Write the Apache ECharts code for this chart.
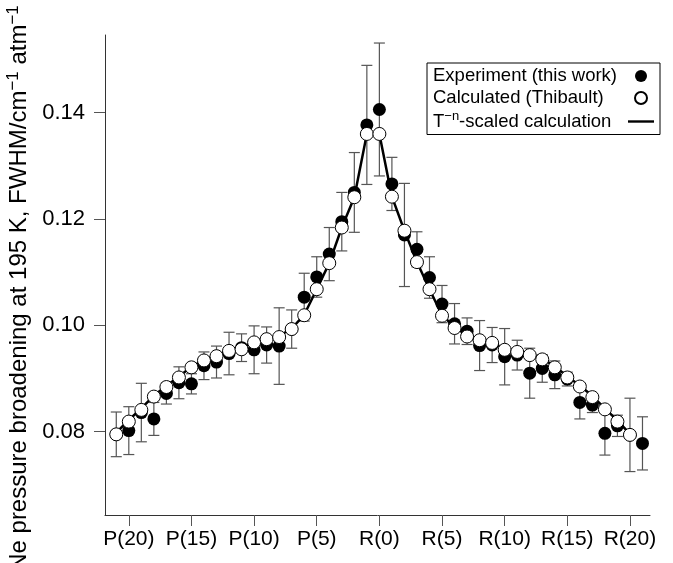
<!DOCTYPE html>
<html>
<head>
<meta charset="utf-8">
<script src="https://cdn.jsdelivr.net/npm/echarts@6/dist/echarts.min.js"></script>
<style>
html,body{margin:0;padding:0;background:#fff;}
#c{width:673px;height:563px;}
</style>
</head>
<body>
<div id="c"></div>
<script>
// Rotational lines: P(J) plotted at -J, R(J) at +J
var expX = [-21,-20,-19,-18,-17,-16,-15,-14,-13,-12,-11,-10,-9,-8,-7,-6,-5,-4,-3,-2,-1,
            0,1,2,3,4,5,6,7,8,9,10,11,12,13,14,15,16,17,18,19,20,21];
var expY = [0.0795,0.0802,0.0836,0.0824,0.0872,0.0892,0.0890,0.0924,0.0931,0.0947,0.0958,0.0954,0.0963,0.0961,0.0993,0.1053,0.1091,0.1134,0.1195,0.1250,0.1377,
            0.1406,0.1266,0.1170,0.1143,0.1090,0.1040,0.1003,0.0989,0.0962,0.0963,0.0941,0.0944,0.0910,0.0919,0.0907,0.0899,0.0855,0.0850,0.0797,0.0811,0.0794,0.0778];
var expErr = [0.0042,0.0045,0.0055,0.0031,0.0020,0.0030,0.0019,0.0026,0.0030,0.0040,0.0026,0.0045,0.0034,0.0072,0.0036,0.0045,0.0038,0.0050,0.0055,0.0075,0.0112,
              0.0125,0.0050,0.0097,0.0033,0.0039,0.0035,0.0038,0.0025,0.0047,0.0033,0.0053,0.0028,0.0047,0.0026,0.0026,0.0013,0.0031,0.0014,0.0041,0.0020,0.0069,0.0050];

var calcX = [-21,-20,-19,-18,-17,-16,-15,-14,-13,-12,-11,-10,-9,-8,-7,-6,-5,-4,-3,-2,-1,
             0,1,2,3,4,5,6,7,8,9,10,11,12,13,14,15,16,17,18,19,20];
var calcY = [0.0795,0.0819,0.0841,0.0866,0.0884,0.0902,0.0921,0.0934,0.0942,0.0952,0.0955,0.0968,0.0974,0.0978,0.0993,0.1019,0.1068,0.1117,0.1184,0.1241,0.1360,
             0.1360,0.1242,0.1178,0.1119,0.1068,0.1018,0.0995,0.0979,0.0972,0.0967,0.0954,0.0950,0.0944,0.0936,0.0921,0.0902,0.0885,0.0865,0.0842,0.0819,0.0794];

var scaledY = [0.0798,0.0822,0.0844,0.0868,0.0886,0.0904,0.0922,0.0935,0.0944,0.0953,0.0958,0.0969,0.0975,0.0980,0.0994,0.1020,0.1068,0.1117,0.1184,0.1241,0.1360,
               0.1360,0.1242,0.1178,0.1119,0.1068,0.1019,0.0997,0.0981,0.0974,0.0968,0.0956,0.0952,0.0946,0.0937,0.0923,0.0904,0.0887,0.0867,0.0844,0.0821,0.0796];

var xTickVals = [-20,-15,-10,-5,0,5,10,15,20];
var xTickLabels = ['P(20)','P(15)','P(10)','P(5)','R(0)','R(5)','R(10)','R(15)','R(20)'];
var yTickVals = [0.08,0.10,0.12,0.14];
var yTickLabels = ['0.08','0.10','0.12','0.14'];

var seriesNames = ['Experiment (this work)','Calculated (Thibault)','T-n-scaled calculation'];

var FONT = 'Liberation Sans, Arial, Helvetica, sans-serif';
var LFS = 18.5;
var LEG_TEXT_W = 190;

function zip(a,b){ return a.map(function(v,i){ return [v,b[i]]; }); }
var errData = expX.map(function(x,i){ return [x, expY[i]-expErr[i], expY[i]+expErr[i]]; });

// measure legend texts so that the icons line up in one column
var mctx = document.createElement('canvas').getContext('2d');
function tw(str, size){ mctx.font = size + 'px ' + FONT; return mctx.measureText(str).width; }
var w0 = tw(seriesNames[0], LFS), w1 = tw(seriesNames[1], LFS);
var w2 = tw('T', LFS) + tw('−n', 13) + tw('-scaled calculation', LFS);

var chart = echarts.init(document.getElementById('c'), null, {renderer:'canvas'});
chart.setOption({
  animation:false,
  backgroundColor:'#fff',
  grid:{left:105,right:23,top:35,bottom:48,containLabel:false,outerBoundsMode:'none'},
  xAxis:{
    type:'value', min:-21.9, max:21.6,
    axisLine:{show:true,onZero:false,lineStyle:{color:'#333',width:1}},
    axisTick:{show:true,customValues:xTickVals,length:11,lineStyle:{color:'#555'}},
    axisLabel:{customValues:xTickVals,margin:14,fontSize:21,color:'#000',fontFamily:FONT,
      formatter:function(v){ var i=xTickVals.indexOf(Math.round(v)); return i>=0?xTickLabels[i]:''; }},
    splitLine:{show:false}
  },
  yAxis:{
    type:'value', min:0.06433, max:0.15461,
    axisLine:{show:true,onZero:false,lineStyle:{color:'#333',width:1}},
    axisTick:{show:true,customValues:yTickVals,length:11,lineStyle:{color:'#555'}},
    axisLabel:{customValues:yTickVals,margin:20,fontSize:22,color:'#000',fontFamily:FONT,
      formatter:function(v){ var i=-1; yTickVals.forEach(function(t,k){ if(Math.abs(t-v)<1e-6) i=k; }); return i>=0?yTickLabels[i]:''; }},
    splitLine:{show:false},
    name:'Ne pressure broadening at 195 K, FWHM/cm{s|−1} atm{s|−1}',
    nameLocation:'middle', nameRotate:90, nameGap:71,
    nameTextStyle:{fontSize:24,color:'#000',fontFamily:FONT,padding:[0,26,0,0],
      rich:{s:{fontSize:17,fontFamily:FONT,color:'#000',padding:[0,0,12,0]}}}
  },
  legend:{
    left:427, top:63, orient:'vertical', align:'right',
    borderColor:'#000', borderWidth:1, padding:[3,6,3,6],
    itemGap:2, itemWidth:26, itemHeight:12,
    textStyle:{fontSize:LFS,color:'#000',fontFamily:FONT,lineHeight:20,
      rich:{s:{fontSize:13,fontFamily:FONT,color:'#000',padding:[0,0,10,0]},
            a:{fontSize:LFS,fontFamily:FONT,color:'#000'},
            e0:{fontSize:LFS,width:Math.max(1,LEG_TEXT_W-w0)},
            e1:{fontSize:LFS,width:Math.max(1,LEG_TEXT_W-w1)},
            e2:{fontSize:LFS,width:Math.max(1,LEG_TEXT_W-w2)}}},
    formatter:function(n){
      if(n===seriesNames[2]) return '{a|T}{s|−n}{a|-scaled calculation}{e2| }';
      if(n===seriesNames[1]) return '{a|'+n+'}{e1| }';
      return '{a|'+n+'}{e0| }';
    },
    data:[
      {name:seriesNames[0],icon:'circle'},
      {name:seriesNames[1],icon:'circle'},
      {name:seriesNames[2],icon:'path://M0,0L26,0L26,2.4L0,2.4Z'}
    ]
  },
  series:[
    {
      type:'custom', name:'errorbars', z:1, silent:true,
      data:errData,
      renderItem:function(params, api){
        var x=api.value(0), lo=api.value(1), hi=api.value(2);
        var pt=api.coord([x,hi]), pb=api.coord([x,lo]);
        var hw=5.5, st={stroke:'#555',lineWidth:1.2};
        return {type:'group',children:[
          {type:'line',shape:{x1:pt[0],y1:pt[1],x2:pb[0],y2:pb[1]},style:st},
          {type:'line',shape:{x1:pt[0]-hw,y1:pt[1],x2:pt[0]+hw,y2:pt[1]},style:st},
          {type:'line',shape:{x1:pb[0]-hw,y1:pb[1],x2:pb[0]+hw,y2:pb[1]},style:st}
        ]};
      }
    },
    {
      type:'scatter', name:seriesNames[0], z:2,
      data:zip(expX,expY), symbol:'circle', symbolSize:13,
      itemStyle:{color:'#000',borderColor:'#000',borderWidth:0,opacity:1}
    },
    {
      type:'line', name:seriesNames[2], z:3,
      data:zip(calcX,scaledY), symbol:'none', showSymbol:false,
      lineStyle:{color:'#000',width:2.5}, itemStyle:{color:'#000'}
    },
    {
      type:'scatter', name:seriesNames[1], z:4,
      data:zip(calcX,calcY), symbol:'circle', symbolSize:13,
      itemStyle:{color:'#fff',borderColor:'#000',borderWidth:1,opacity:1}
    }
  ]
});
</script>
</body>
</html>
